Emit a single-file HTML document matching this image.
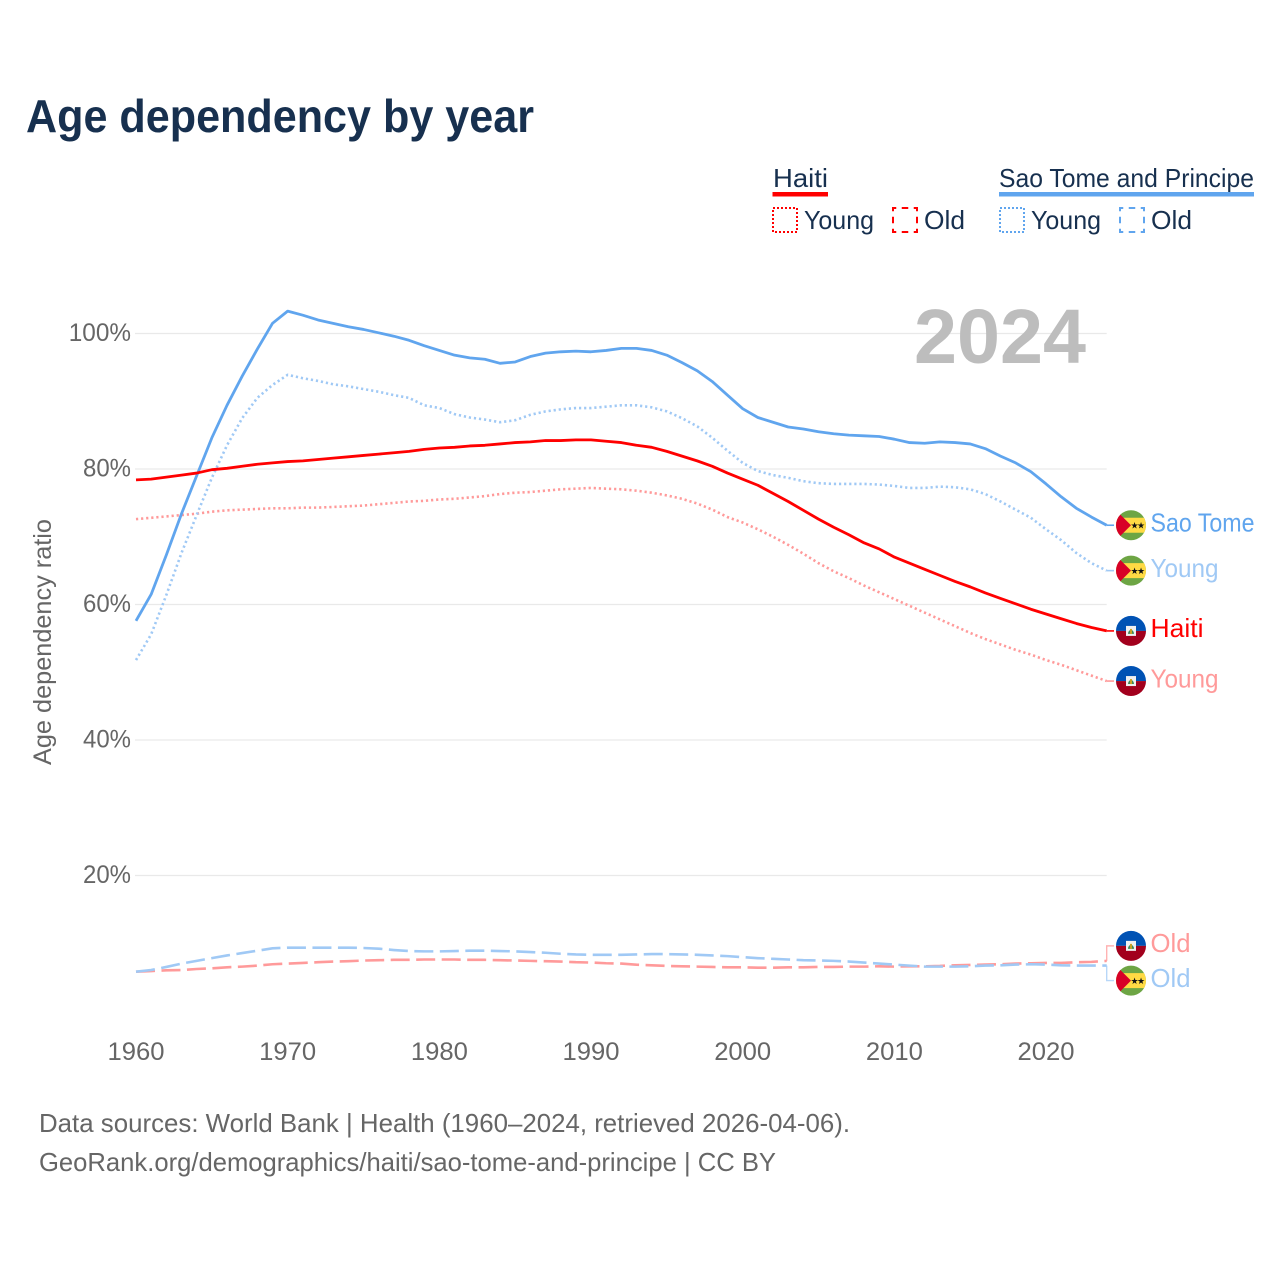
<!DOCTYPE html>
<html lang="en">
<head>
<meta charset="utf-8">
<title>Age dependency by year</title>
<style>
html,body{margin:0;padding:0;background:#fff;}
svg{display:block;font-family:"Liberation Sans",sans-serif;}
</style>
</head>
<body>
<svg id="chart" xmlns="http://www.w3.org/2000/svg" width="1280" height="1280" viewBox="0 0 1280 1280">
  <defs>
    <clipPath id="flag-clip"><circle cx="0" cy="0" r="15"/></clipPath>
  </defs>
  <rect x="0" y="0" width="1280" height="1280" fill="#fff"/>
  <text x="26" y="132" font-size="46" font-weight="700" fill="#17304f" textLength="508" lengthAdjust="spacingAndGlyphs">Age dependency by year</text>

  <g font-size="26" fill="#17304f">
    <g>
      <text x="773" y="187" textLength="55" lengthAdjust="spacingAndGlyphs">Haiti</text>
      <rect x="772.5" y="192" width="55.5" height="4.5" fill="#ff0000"/>
    </g>
    <g>
      <rect x="773" y="208" width="24" height="24" fill="none" stroke="#ff0000" stroke-width="2" stroke-dasharray="2 2"/>
      <text x="804" y="229" textLength="70" lengthAdjust="spacingAndGlyphs">Young</text>
    </g>
    <g>
      <rect x="893" y="208" width="24" height="24" fill="none" stroke="#ff0000" stroke-width="2" stroke-dasharray="6.5 5.5" stroke-dashoffset="3.25"/>
      <text x="924" y="229" textLength="41" lengthAdjust="spacingAndGlyphs">Old</text>
    </g>
    <g>
      <text x="999" y="187" textLength="255" lengthAdjust="spacingAndGlyphs">Sao Tome and Principe</text>
      <rect x="999" y="192" width="255" height="4.5" fill="#60a5ee"/>
    </g>
    <g>
      <rect x="1000" y="208" width="24" height="24" fill="none" stroke="#60a5ee" stroke-width="2" stroke-dasharray="2 2"/>
      <text x="1031" y="229" textLength="70" lengthAdjust="spacingAndGlyphs">Young</text>
    </g>
    <g>
      <rect x="1120" y="208" width="24" height="24" fill="none" stroke="#60a5ee" stroke-width="2" stroke-dasharray="6.5 5.5" stroke-dashoffset="3.25"/>
      <text x="1151" y="229" textLength="41" lengthAdjust="spacingAndGlyphs">Old</text>
    </g>
  </g>

  <g id="grid"></g>
  <g id="y-ticks"></g>
  <g id="x-ticks"></g>
  <text id="year-label" x="1086" y="363" text-anchor="end" font-size="77" font-weight="700" fill="#bdbdbd" textLength="172" lengthAdjust="spacingAndGlyphs"></text>
  <text transform="translate(51 642) rotate(-90)" text-anchor="middle" font-size="25" fill="#666" textLength="246" lengthAdjust="spacingAndGlyphs">Age dependency ratio</text>
  <g id="series"></g>
  <g id="end-labels"></g>

  <g font-size="26" fill="#666">
    <text x="39" y="1132" textLength="811" lengthAdjust="spacingAndGlyphs">Data sources: World Bank | Health (1960–2024, retrieved 2026-04-06).</text>
    <text x="39" y="1171" textLength="737" lengthAdjust="spacingAndGlyphs">GeoRank.org/demographics/haiti/sao-tome-and-principe | CC BY</text>
  </g>
</svg>
<script>
const startYear = 1960;
const endYear = 2024;
const xTickYears = [1960, 1970, 1980, 1990, 2000, 2010, 2020];
const yTickValues = [20, 40, 60, 80, 100];

const saoTomeTotal = [57.6,61.5,67.3,73.4,79,84.6,89.4,93.7,97.7,101.5,103.3,102.7,102,101.5,101,100.6,100.1,99.6,99,98.2,97.5,96.8,96.4,96.2,95.6,95.8,96.6,97.1,97.3,97.4,97.3,97.5,97.8,97.8,97.5,96.8,95.7,94.5,92.9,90.9,88.9,87.6,86.9,86.2,85.9,85.5,85.2,85,84.9,84.8,84.4,83.9,83.8,84,83.9,83.7,83,81.9,80.9,79.6,77.8,75.9,74.2,72.9,71.7];
const saoTomeYoung = [51.8,55.6,61.4,67.6,73.2,78.7,83.5,87.5,90.5,92.4,93.9,93.4,93,92.5,92.2,91.8,91.4,90.9,90.5,89.4,89,88.1,87.6,87.3,86.9,87.2,88,88.5,88.8,89,89,89.2,89.4,89.4,89.1,88.5,87.5,86.3,84.6,82.7,80.9,79.7,79.1,78.7,78.2,77.9,77.8,77.8,77.8,77.7,77.5,77.2,77.2,77.4,77.3,77,76.3,75.2,74,72.8,71.1,69.5,67.6,66.1,65];
const saoTomeOld = [5.8,6.05,6.5,7,7.4,7.8,8.2,8.55,8.9,9.25,9.35,9.35,9.35,9.35,9.35,9.3,9.2,9,8.85,8.8,8.8,8.85,8.9,8.9,8.85,8.8,8.7,8.6,8.45,8.35,8.3,8.3,8.3,8.35,8.4,8.4,8.35,8.3,8.2,8.1,7.95,7.8,7.7,7.6,7.5,7.45,7.4,7.3,7.15,7,6.85,6.7,6.55,6.55,6.55,6.6,6.7,6.75,6.85,6.9,6.85,6.75,6.7,6.7,6.7];
const haitiTotal = [78.4,78.5,78.8,79.1,79.4,79.9,80.1,80.4,80.7,80.9,81.1,81.2,81.4,81.6,81.8,82,82.2,82.4,82.6,82.9,83.1,83.2,83.4,83.5,83.7,83.9,84,84.2,84.2,84.3,84.3,84.1,83.9,83.5,83.2,82.6,81.9,81.2,80.4,79.4,78.5,77.6,76.4,75.2,73.9,72.6,71.4,70.3,69.1,68.2,67,66.1,65.2,64.3,63.4,62.6,61.7,60.9,60.1,59.3,58.6,57.9,57.2,56.6,56.1];
const haitiYoung = [72.6,72.8,73,73.2,73.4,73.7,73.9,74,74.1,74.2,74.2,74.3,74.3,74.4,74.5,74.6,74.8,75,75.2,75.3,75.5,75.6,75.8,76,76.3,76.5,76.6,76.8,77,77.1,77.2,77.1,77,76.8,76.5,76.1,75.6,74.9,74,72.9,72.1,71.1,70,68.8,67.5,66.1,64.9,63.9,62.8,61.8,60.8,59.8,58.8,57.8,56.8,55.8,54.9,54.1,53.3,52.6,51.8,51.1,50.3,49.5,48.7];
const haitiOld = [5.8,5.9,6,6.05,6.2,6.3,6.45,6.55,6.7,6.9,7,7.1,7.2,7.3,7.35,7.45,7.5,7.55,7.55,7.6,7.6,7.6,7.55,7.55,7.5,7.45,7.4,7.35,7.3,7.2,7.15,7.05,7,6.83,6.75,6.65,6.6,6.55,6.5,6.45,6.45,6.4,6.4,6.45,6.45,6.5,6.5,6.55,6.55,6.6,6.55,6.6,6.6,6.65,6.75,6.8,6.85,6.9,7,7.05,7.1,7.1,7.2,7.25,7.4];

const NS = 'http://www.w3.org/2000/svg';
const plotLeft = 136, plotRight = 1106.7, plotZero = 1011, pxPerPercent = 6.775;
const RED = '#ff0000', BLUE = '#60a5ee', RED_LIGHT = '#ff9a9a', BLUE_LIGHT = '#a0c9f5';
const DOT = '2.2 2.9', DASH = '19 6.5';

function xScale(year) { return plotLeft + (year - startYear) * (plotRight - plotLeft) / (endYear - startYear); }
function yScale(value) { return plotZero - value * pxPerPercent; }
function make(tag, attrs, parent) {
  const el = document.createElementNS(NS, tag);
  for (const k in attrs) el.setAttribute(k, attrs[k]);
  parent.appendChild(el);
  return el;
}

const gridGroup = document.getElementById('grid');
const yTickGroup = document.getElementById('y-ticks');
const xTickGroup = document.getElementById('x-ticks');
yTickValues.forEach(function (v) {
  const line = make('line', { x1: plotLeft - 1, x2: plotRight, y1: yScale(v), y2: yScale(v), stroke: '#e9e9e9', 'stroke-width': 1.2 }, gridGroup);
  
  
  const label = v + '%';
  const t = make('text', { x: 131, y: yScale(v) + 7.5, 'text-anchor': 'end', 'font-size': 25, fill: '#666', textLength: (label.length - 1) * 14.25 + 19.5, lengthAdjust: 'spacingAndGlyphs' }, yTickGroup);
  t.textContent = label;
  
  
});
xTickYears.forEach(function (yr) {
  const t = make('text', { x: xScale(yr), y: 1060, 'text-anchor': 'middle', 'font-size': 25, fill: '#666', textLength: 57, lengthAdjust: 'spacingAndGlyphs' }, xTickGroup);
  t.textContent = String(yr);
  
  
});
document.getElementById('year-label').textContent = String(endYear);

const seriesGroup = document.getElementById('series');
function drawLine(name, values, color, width, dash) {
  const d = values.map(function (v, i) {
    return (i ? 'L' : 'M') + xScale(startYear + i).toFixed(2) + ' ' + yScale(v).toFixed(2);
  }).join(' ');
  const attrs = { d: d, fill: 'none', stroke: color, 'stroke-width': width, 'stroke-linejoin': 'round' };
  if (dash) attrs['stroke-dasharray'] = dash;
  const p = make('path', attrs, seriesGroup);
  
  
}
drawLine('line-haiti-young', haitiYoung, RED_LIGHT, 2.6, DOT);
drawLine('line-haiti-old', haitiOld, RED_LIGHT, 2.6, DASH);
drawLine('line-sao-tome-young', saoTomeYoung, BLUE_LIGHT, 2.6, DOT);
drawLine('line-sao-tome-old', saoTomeOld, BLUE_LIGHT, 2.6, DASH);
drawLine('line-sao-tome-total', saoTomeTotal, BLUE, 2.8, null);
drawLine('line-haiti-total', haitiTotal, RED, 2.8, null);

const endGroup = document.getElementById('end-labels');
function drawFlag(country, cy, name) {
  const g = make('g', { transform: 'translate(1131 ' + cy + ')', 'clip-path': 'url(#flag-clip)' }, endGroup);
  
  
  if (country === 'haiti') {
    make('rect', { x: -16, y: -16, width: 32, height: 16, fill: '#0052b4' }, g);
    make('rect', { x: -16, y: 0, width: 32, height: 16, fill: '#a2001d' }, g);
    make('rect', { x: -5, y: -5, width: 10, height: 10, fill: '#f0f0f0' }, g);
    make('path', { d: 'M-3 3 A3 4 0 0 1 3 3 Z', fill: '#3f8a5a' }, g);
    make('rect', { x: -1, y: -2, width: 2, height: 5, fill: '#c9a227' }, g);
  } else {
    make('rect', { x: -16, y: -16, width: 32, height: 32, fill: '#6da544' }, g);
    make('rect', { x: -16, y: -7.5, width: 32, height: 15, fill: '#ffda44' }, g);
    make('path', { d: 'M-16 -16 L0 0 L-16 16 Z', fill: '#d80027' }, g);
    const s1 = make('text', { x: 3.5, y: 3.5, 'text-anchor': 'middle', 'font-size': 9, fill: '#111' }, g);
    s1.textContent = '★';
    const s2 = make('text', { x: 10, y: 3.5, 'text-anchor': 'middle', 'font-size': 9, fill: '#111' }, g);
    s2.textContent = '★';
  }
}
function drawEndLabel(name, country, values, color, text, textWidth, nudge) {
  const lineY = yScale(values[values.length - 1]);
  const flagY = lineY + nudge;
  const d = nudge
    ? 'M' + plotRight + ' ' + lineY + ' L' + plotRight + ' ' + flagY + ' L1114 ' + flagY
    : 'M' + plotRight + ' ' + lineY + ' L1114 ' + lineY;
  const c = make('path', { d: d, fill: 'none', stroke: color, 'stroke-width': nudge ? 1.4 : 1.6, opacity: nudge ? 0.75 : 1 }, endGroup);
  
  
  drawFlag(country, flagY, name + '-flag');
  const t = make('text', { x: 1150.5, y: flagY + 6.3, 'font-size': 26, fill: color, textLength: textWidth, lengthAdjust: 'spacingAndGlyphs' }, endGroup);
  t.textContent = text;
  
  
}
drawEndLabel('end-sao-tome-total', 'stp', saoTomeTotal, BLUE, 'Sao Tome', 104, 0);
drawEndLabel('end-sao-tome-young', 'stp', saoTomeYoung, BLUE_LIGHT, 'Young', 68, 0);
drawEndLabel('end-haiti-total', 'haiti', haitiTotal, RED, 'Haiti', 53, 0);
drawEndLabel('end-haiti-young', 'haiti', haitiYoung, RED_LIGHT, 'Young', 68, 0);
drawEndLabel('end-haiti-old', 'haiti', haitiOld, RED_LIGHT, 'Old', 40, -15);
drawEndLabel('end-sao-tome-old', 'stp', saoTomeOld, BLUE_LIGHT, 'Old', 40, 15);
</script>
</body>
</html>
